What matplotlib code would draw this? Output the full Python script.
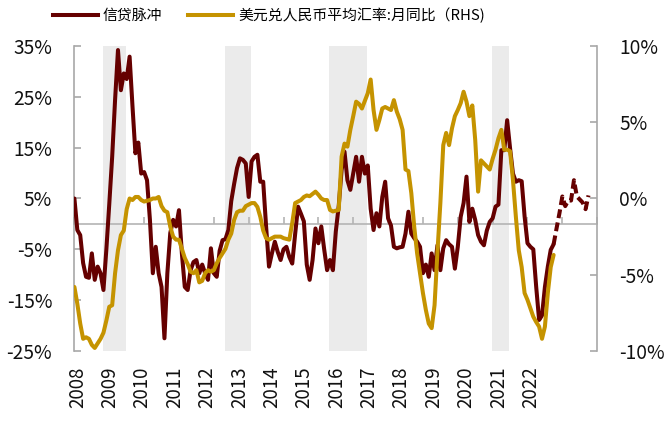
import numpy as np
import matplotlib
matplotlib.use("Agg")
import matplotlib.pyplot as plt
from matplotlib.lines import Line2D

plt.rcParams['font.family'] = ['Noto Sans CJK SC', 'DejaVu Sans']

# ---- data (monthly, starting Jan 2008) ----
credit_impulse = [
    5.0, -1.2, -2.2, -7.7, -10.4, -10.6, -5.8, -11.0, -8.4, -9.7, -13.0, -5.0,      # 2008
    3.9, 13.2, 24.4, 34.2, 26.3, 29.6, 28.5, 32.9, 23.1, 13.9, 16.0, 9.9,           # 2009
    10.2, 8.6, 0.8, -9.7, -4.5, -9.7, -12.4, -22.5, -9.7, -1.8, 0.8, -0.5,          # 2010
    2.7, -5.8, -12.4, -13.0, -9.1, -7.5, -7.1, -9.7, -8.0, -9.7, -11.0, -4.8,       # 2011
    -9.7, -10.4, -5.3, -3.2, -3.0, -1.2, 4.5, 7.9, 11.0, 12.9, 12.6, 11.9,          # 2012
    5.3, 12.3, 13.2, 13.6, 8.3, 8.3, -0.5, -8.4, -5.8, -3.5, -5.5, -7.1,            # 2013
    -5.0, -4.5, -6.5, -7.8, -2.0, 3.4, 2.0, 0.5, -8.0, -11.0, -7.1, -0.9,           # 2014
    -3.8, -0.5, -5.0, -9.1, -7.1, -9.1, -1.5, 3.5, 10.6, 14.2, 8.6, 6.7,            # 2015
    10.0, 13.2, 8.3, 13.2, 9.9, 11.5, 3.0, -1.2, 2.1, -0.5, 5.3, 8.3,               # 2016
    1.1, -0.3, -4.5, -4.8, -4.6, -4.5, -1.9, 2.4, -1.9, -2.8, -3.5, -4.5,           # 2017
    -9.7, -8.0, -10.4, -5.8, -9.1, -4.2, -9.1, -4.8, -3.2, -4.0, -4.5, -8.8,        # 2018
    -4.5, 1.4, 4.1, 9.3, 0.4, 3.0, 0.8, -2.2, -3.5, -4.2, -1.3, 0.4,                # 2019
    1.1, 3.4, 3.8, 14.5, 14.5, 20.4, 14.9, 9.9, 8.3, 8.6, 8.4, 1.5,                 # 2020
    -3.8, -4.5, -5.0, -12.4, -18.9, -18.0, -12.4, -8.4, -5.1, -4.0, -0.9, 2.1,      # 2021
    5.4, 3.5, 4.6, 4.6, 8.6, 5.4, 4.8, 4.2, 2.9, 5.6,                               # 2022
]
solid_until = 165   # index where the dashed part begins

usdcny_yoy = [
    -5.8, -6.9, -8.2, -9.2, -9.1, -9.2, -9.6, -9.8, -9.5, -9.2, -8.8, -8.0,         # 2008
    -7.1, -7.0, -4.9, -3.4, -2.4, -2.1, -0.7, 0.0, -0.1, 0.1, 0.1, -0.1,            # 2009
    -0.2, -0.15, -0.1, 0.0, 0.0, 0.1, -0.5, -0.8, -0.9, -1.85, -2.5, -2.7,          # 2010
    -2.7, -3.3, -3.9, -4.3, -4.8, -4.9, -4.7, -5.5, -5.4, -4.9, -4.7, -4.8,         # 2011
    -4.7, -4.25, -3.9, -3.6, -3.3, -2.7, -2.3, -1.4, -0.9, -0.8, -0.8, -0.5,        # 2012
    -0.4, -0.3, -0.3, -0.55, -1.2, -2.1, -2.6, -2.7, -2.6, -2.5, -2.5, -2.5,        # 2013
    -2.6, -2.65, -2.7, -1.6, -0.3, -0.2, -0.1, 0.1, 0.2, 0.15, 0.3, 0.45,           # 2014
    0.25, 0.0, -0.1, -0.1, -0.75, -0.85, -0.8, -0.75, 2.75, 3.6, 3.4, 4.5,          # 2015
    5.4, 6.35, 6.2, 5.9, 6.4, 6.9, 7.8, 5.8, 4.5, 5.15, 5.9, 6.0,                   # 2016
    5.9, 5.8, 6.45, 5.7, 5.2, 4.5, 1.9, 1.8, 0.35, -1.85, -3.6, -4.9,               # 2017
    -6.2, -7.3, -8.2, -8.5, -7.0, -3.5, -0.3, 3.5, 4.3, 3.5, 4.6, 5.4,              # 2018
    5.8, 6.25, 7.0, 6.35, 5.4, 6.1, 3.85, 0.45, 2.5, 2.3, 2.1, 1.9,                 # 2019
    2.6, 3.2, 3.95, 4.5, 3.2, 3.2, 3.1, 1.2, -1.2, -3.4, -4.5, -6.2,                # 2020
    -6.65, -7.2, -7.75, -8.1, -8.4, -9.2, -8.4, -6.2, -4.5, -3.7,                   # 2021
]

year_labels = [str(y) for y in range(2008, 2023)]
shade_start = [10.0, 51.9, 87.7, 143.9]
shade_end = [17.7, 60.7, 100.7, 149.7]

left_ticks = [-25, -15, -5, 5, 15, 25, 35]
right_ticks = [-10, -5, 0, 5, 10]

series_names = ['信贷脉冲', '美元兑人民币平均汇率:月同比（RHS)']

# ---- style ----
maroon = '#650000'
gold = '#C59300'
gray = '#A8A8A8'
lw = 2.9

fig = plt.figure(figsize=(6.68, 4.25), dpi=100)
ax = fig.add_axes([0.1114, 0.1741, 0.7826, 0.7177])
ax2 = ax.twinx()

for s, e in zip(shade_start, shade_end):
    ax.axvspan(s, e, color='#EBEBEB', lw=0, zorder=0)

m_credit = np.arange(len(credit_impulse))
c = np.array(credit_impulse)
ax.plot(m_credit[:solid_until + 1], c[:solid_until + 1], color=maroon, lw=lw,
        solid_joinstyle='round', solid_capstyle='round', zorder=3)
ax.plot(m_credit[solid_until:], c[solid_until:], color=maroon, lw=lw,
        ls=(0, (2.2, 1.1)), dash_joinstyle='round', zorder=3)

m_fx = np.arange(len(usdcny_yoy))
ax2.plot(m_fx, usdcny_yoy, color=gold, lw=lw, solid_joinstyle='round',
         solid_capstyle='round', zorder=3)

ax.set_xlim(0, 180)
ax.set_ylim(-25, 35)
ax2.set_ylim(-10, 10)

# spines
for sp in ['top', 'right']:
    ax.spines[sp].set_visible(False)
for sp in ['top', 'left', 'bottom']:
    ax2.spines[sp].set_visible(False)
ax.spines['left'].set_color(gray)
ax.spines['left'].set_linewidth(1.2)
ax2.spines['right'].set_color(gray)
ax2.spines['right'].set_linewidth(1.2)
ax.spines['bottom'].set_position(('data', 0))
ax.spines['bottom'].set_color('#B4B4B4')
ax.spines['bottom'].set_linewidth(1.2)
ax.spines['bottom'].set_zorder(1)

# y ticks
ax.set_yticks(left_ticks)
ax.set_yticklabels([f'{v}%' for v in left_ticks])
ax2.set_yticks(right_ticks)
ax2.set_yticklabels([f'{v}%' for v in right_ticks])
ax.tick_params(axis='y', direction='in', length=5, width=1.2, color=gray,
               pad=16, labelsize=13.8, labelcolor='#111111')
ax2.tick_params(axis='y', direction='in', length=5, width=1.2, color=gray,
                pad=16, labelsize=13.8, labelcolor='#111111')

# x ticks on the zero line (pointing up), labels at the bottom
ax.set_xticks(np.arange(0, 181, 12))
ax.tick_params(axis='x', direction='in', length=5, width=1.2, color='#B4B4B4',
               labelbottom=False)
secax = ax.secondary_xaxis('bottom')
secax.spines['bottom'].set_visible(False)
label_pos = 1.0 + np.arange(len(year_labels)) * 11.15
secax.set_xticks(label_pos)
secax.set_xticklabels(year_labels, rotation=90)
secax.tick_params(axis='x', length=0, pad=11, labelsize=13.5, labelcolor='#111111')

# legend
handles = [Line2D([], [], color=maroon, lw=lw), Line2D([], [], color=gold, lw=lw)]
fig.legend(handles, series_names, loc='center', bbox_to_anchor=(269 / 668, 1 - 15 / 425),
           ncol=2, frameon=False, fontsize=10.7, handlelength=3.0, handletextpad=0.35,
           columnspacing=1.75, borderaxespad=0, borderpad=0)

fig.savefig('out.png', dpi=100)
